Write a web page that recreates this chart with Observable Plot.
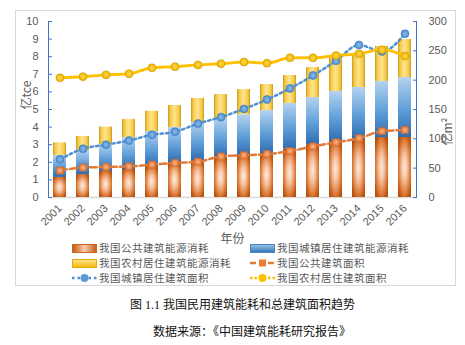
<!DOCTYPE html>
<html><head><meta charset="utf-8">
<script src="https://cdn.jsdelivr.net/npm/d3@7"></script>
<script src="https://cdn.jsdelivr.net/npm/@observablehq/plot@0.6"></script>
<style>
body{margin:0;background:#fff;width:465px;height:345px;overflow:hidden;position:relative;font-family:"Noto Sans CJK SC",sans-serif}
#frame{position:absolute;left:15px;top:10px;width:441px;height:276px;border:1px solid #d9d9d9;box-sizing:border-box}
#chart{position:absolute;left:16px;top:11px}
.item{position:absolute;display:flex;align-items:center;height:12px;line-height:12px;font-size:10.5px;letter-spacing:0.5px;color:#595959;white-space:nowrap;font-family:"Noto Sans CJK SC",sans-serif}
.item span{display:block;height:12px;line-height:12px}
.item svg{display:block;margin-right:2px}
.cap{position:absolute;font-size:12px;line-height:14px;color:#111;white-space:nowrap;font-family:"Liberation Serif","Noto Sans CJK SC",serif}
</style></head>
<body>
<div id="frame"></div>
<div id="chart"></div>
<div id="legend"></div>
<div class="cap" style="left:130px;top:298px">图 1.1 我国民用建筑能耗和总建筑面积趋势</div>
<div class="cap" style="left:153px;top:325px">数据来源：《中国建筑能耗研究报告》</div>
<script>
const years = ["2001","2002","2003","2004","2005","2006","2007","2008","2009","2010","2011","2012","2013","2014","2015","2016"];
// energy consumption, 亿tce
const publicEnergy = [1.14,1.30,1.48,1.59,1.76,1.99,2.10,2.27,2.39,2.50,2.75,3.00,3.18,3.30,3.41,3.41];
const urbanEnergy  = [1.25,1.37,1.52,1.81,1.99,1.99,2.16,2.22,2.31,2.44,2.59,2.68,2.84,2.95,3.18,3.41];
const ruralEnergy  = [0.71,0.80,1.00,1.03,1.15,1.25,1.37,1.36,1.43,1.48,1.59,1.71,1.93,1.93,1.99,2.16];
// floor area, 亿m²
const publicArea = [46,51,52,53,56,59,61,70,72,74,79,87,94,101,113,115];
const urbanArea  = [65,83,90,97,107,112,126,137,151,167,186,208,233,260,249,279];
const ruralArea  = [204,206,209,211,221,223,226,228,231,229,238,238,242,245,252,241];
const leftTicks = [0,1,2,3,4,5,6,7,8,9,10];
const rightTicks = [0,50,100,150,200,250,300];
const energyNames = ["我国公共建筑能源消耗","我国城镇居住建筑能源消耗","我国农村居住建筑能源消耗"];
const areaNames = ["我国公共建筑面积","我国城镇居住建筑面积","我国农村居住建筑面积"];

const RATIO = 30; // right axis 300 ↔ left axis 10
const energySeries = [publicEnergy, urbanEnergy, ruralEnergy];
const stacked = [];
years.forEach((yr, i) => energySeries.forEach((s, k) => stacked.push({year: yr, series: energyNames[k], value: s[i]})));
const areaRows = (arr) => years.map((yr, i) => ({year: yr, value: arr[i]}));

const W = 440, ML = 32, MR = 40, MT = 10, H = 236, MB = 50;
const iw = W - ML - MR, ih = H - MT - MB;

const chart = Plot.plot({
  width: W, height: H, marginLeft: ML, marginRight: MR, marginTop: MT, marginBottom: MB,
  style: {fontFamily: "'Liberation Sans','Noto Sans CJK SC',sans-serif", fontSize: "11px", background: "transparent"},
  x: {type: "band", domain: years, paddingInner: 0.43, paddingOuter: 0.215, label: null},
  y: {domain: [0, 10], label: null},
  color: {domain: energyNames, range: ["url(#gPub)", "url(#gUrb)", "url(#gRur)"]},
  marks: [
    Plot.ruleY([0], {stroke: "#d9d9d9", strokeWidth: 1.5}),
    Plot.barY(stacked, Plot.stackY({x: "year", y: "value", z: "series", fill: "series", order: energyNames})),
    Plot.frame({stroke: "#4472c4", strokeDasharray: `0 ${iw} ${ih} ${iw} ${ih}`}),
    Plot.axisY({anchor: "left", ticks: leftTicks, tickSize: -4, tickPadding: 14, stroke: "#4472c4", fill: "#595959", label: null}),
    Plot.axisY({anchor: "right", ticks: rightTicks.map(v => v / RATIO), tickFormat: d => Math.round(d * RATIO), tickSize: -4, tickPadding: 16, stroke: "#4472c4", fill: "#595959", label: null}),
    Plot.axisX({tickRotate: -45, tickSize: 0, tickPadding: 9, fill: "#595959", label: null}),
    Plot.text(["年份"], {frameAnchor: "bottom", dy: 45, text: d => d, fill: "#595959", fontSize: 12, fontFamily: "Noto Sans CJK SC"}),
    Plot.text(["亿tce"], {frameAnchor: "left", dx: -21, rotate: -90, text: d => d, fill: "#595959", fontSize: 12, fontFamily: "Noto Sans CJK SC"}),
    Plot.text(["亿m²"], {frameAnchor: "right", dx: 32, dy: 8, rotate: -90, text: d => d, fill: "#595959", fontSize: 12, fontFamily: "Noto Sans CJK SC"}),
    // area lines
    Plot.line(areaRows(publicArea), {x: "year", y: d => d.value / RATIO, stroke: "#e07b39", strokeWidth: 2.5, strokeDasharray: "7,3", curve: "monotone-x"}),
    Plot.line(areaRows(urbanArea), {x: "year", y: d => d.value / RATIO, stroke: "#5090d0", strokeWidth: 2.5, strokeDasharray: "2.5,3", curve: "monotone-x"}),
    Plot.line(areaRows(ruralArea), {x: "year", y: d => d.value / RATIO, stroke: "#ffc000", strokeWidth: 3, strokeDasharray: "2.5,2", curve: "monotone-x"}),
    Plot.dot(areaRows(publicArea), {x: "year", y: d => d.value / RATIO, symbol: "square", r: 4, fill: "url(#gSqO)", stroke: "#d06a28", strokeWidth: 0.6}),
    Plot.dot(areaRows(urbanArea), {x: "year", y: d => d.value / RATIO, symbol: "circle", r: 4, fill: "url(#gDotB)", stroke: "#3f7fc0", strokeWidth: 0.6}),
    Plot.dot(areaRows(ruralArea), {x: "year", y: d => d.value / RATIO, symbol: "circle", r: 4, fill: "url(#gDotY)", stroke: "#c99a00", strokeWidth: 0.6})
  ]
});
chart.insertAdjacentHTML("afterbegin", `<defs>
<radialGradient id="gPub" cx="0.5" cy="0.5" r="0.6">
 <stop offset="0" stop-color="#fdeadf"/><stop offset="0.35" stop-color="#f6c2a0"/><stop offset="0.75" stop-color="#dc7a38"/><stop offset="1" stop-color="#b5520f"/>
</radialGradient>
<linearGradient id="gUrb" x1="0" y1="0" x2="0" y2="1">
 <stop offset="0" stop-color="#b3d3ef"/><stop offset="0.55" stop-color="#5f9ed8"/><stop offset="1" stop-color="#2e6cb2"/>
</linearGradient>
<linearGradient id="gRur" x1="0" y1="0" x2="1" y2="0">
 <stop offset="0" stop-color="#c49a1c"/><stop offset="0.15" stop-color="#f5c842"/><stop offset="0.5" stop-color="#ffe48f"/><stop offset="0.85" stop-color="#f5c842"/><stop offset="1" stop-color="#c49a1c"/>
</linearGradient>
<radialGradient id="gSqO"><stop offset="0" stop-color="#f9b98b"/><stop offset="1" stop-color="#e5773a"/></radialGradient>
<radialGradient id="gDotB"><stop offset="0" stop-color="#8fbde8"/><stop offset="1" stop-color="#4a8ad0"/></radialGradient>
<radialGradient id="gDotY"><stop offset="0" stop-color="#ffd84d"/><stop offset="1" stop-color="#f0b400"/></radialGradient>
<linearGradient id="lgPub" x1="0" y1="0" x2="1" y2="0"><stop offset="0" stop-color="#c55a11"/><stop offset="0.5" stop-color="#f8cbad"/><stop offset="1" stop-color="#c55a11"/></linearGradient>
<linearGradient id="lgUrb" x1="0" y1="0" x2="0" y2="1"><stop offset="0" stop-color="#9dc3e6"/><stop offset="1" stop-color="#2e75b6"/></linearGradient>
<linearGradient id="lgRur" x1="0" y1="0" x2="0" y2="1"><stop offset="0" stop-color="#ffe699"/><stop offset="1" stop-color="#f2b700"/></linearGradient>
</defs>`);
document.getElementById("chart").appendChild(chart);

// legend
const sw = {
  bar: (f, stroke) => `<svg width="25" height="9"><rect x="0.5" y="0.5" width="24" height="8" fill="${f}" stroke="${stroke}" stroke-width="1"/></svg>`,
  line: (c, dash, sym, fill) => `<svg width="25" height="10"><line x1="0" y1="5" x2="25" y2="5" stroke="${c}" stroke-width="2.5" stroke-dasharray="${dash}"/>` +
     (sym === "square" ? `<rect x="9" y="1.5" width="7" height="7" fill="${fill}"/>` : `<circle cx="12.5" cy="5" r="4" fill="${fill}"/>`) + `</svg>`
};
const items = [
  {x: 72, y: 248, s: sw.bar("url(#lgPub)", "#c9651f"), t: energyNames[0]},
  {x: 250, y: 248, s: sw.bar("url(#lgUrb)", "#4a86c5"), t: energyNames[1]},
  {x: 72, y: 263, s: sw.bar("url(#lgRur)", "#e0ad00"), t: energyNames[2]},
  {x: 250, y: 263, s: sw.line("#e07b39", "6,3", "square", "#ed7d31"), t: areaNames[0]},
  {x: 72, y: 278, s: sw.line("#5090d0", "2.5,3", "circle", "#5b9bd5"), t: areaNames[1]},
  {x: 250, y: 278, s: sw.line("#ffc000", "2.5,2", "circle", "#ffc000"), t: areaNames[2]}
];
document.getElementById("legend").innerHTML = items.map(it =>
  `<div class="item" style="left:${it.x}px;top:${it.y - 6}px">${it.s}<span>${it.t}</span></div>`
).join("");
</script>
</body></html>
